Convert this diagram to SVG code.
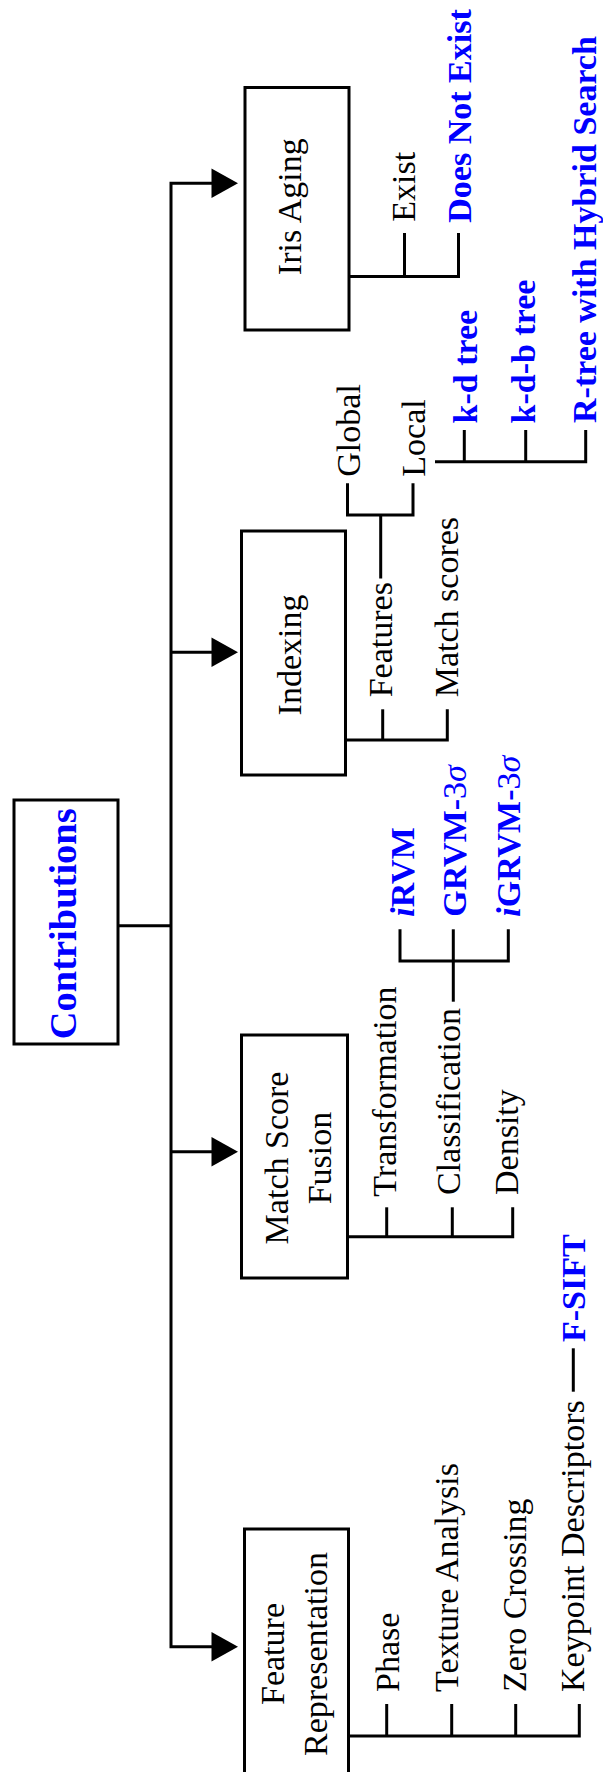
<svg xmlns="http://www.w3.org/2000/svg" xmlns:xlink="http://www.w3.org/1999/xlink" width="603" height="1772" viewBox="0 0 603 1772">
  <style>
    .box { fill: #ffffff; stroke: #000000; stroke-width: 3; }
    .wire { fill: none; stroke: #000000; stroke-width: 3; stroke-linejoin: miter; stroke-linecap: butt; }
    .lbl { font-family: "Liberation Serif", "Times New Roman", serif; font-size: 34px; fill: #000000; }
    .hl { font-family: "Liberation Serif", "Times New Roman", serif; font-size: 34px; font-weight: bold; fill: #0000ff; }
    .mid { text-anchor: middle; }
    .it { font-style: italic; }
    .nb { font-weight: normal; }
  </style>
  <defs>
    <path id="ah" d="M0,-14.7 L26.5,0 L0,14.7 Z" fill="#000000"/>
  </defs>

  <rect width="603" height="1772" fill="#ffffff"/>

  <!-- connectors -->
  <g id="connectors">
    <!-- trunk feeding the four topic boxes -->
    <path class="wire" d="M118 925.7 H171"/>
    <path class="wire" d="M212 183.3 H171 V1646.7 H212"/>
    <path class="wire" d="M171 652.3 H212"/>
    <path class="wire" d="M171 1151.7 H212"/>
    <use xlink:href="#ah" x="211.5" y="183.3"/>
    <use xlink:href="#ah" x="211.5" y="652.3"/>
    <use xlink:href="#ah" x="211.5" y="1151.7"/>
    <use xlink:href="#ah" x="211.5" y="1646.7"/>

    <!-- iris aging branches -->
    <path class="wire" d="M349 276.5 H458.5 V233"/>
    <path class="wire" d="M404.5 276.5 V233"/>

    <!-- indexing branches -->
    <path class="wire" d="M345.5 740 H447.3 V709.3"/>
    <path class="wire" d="M382.7 740 V709.3"/>
    <path class="wire" d="M380.7 578.5 V515"/>
    <path class="wire" d="M347.5 483.3 V515 H413 V483.3"/>
    <path class="wire" d="M435 461.7 H585.7 V430"/>
    <path class="wire" d="M464.3 461.7 V430"/>
    <path class="wire" d="M525.7 461.7 V430"/>

    <!-- match score fusion branches -->
    <path class="wire" d="M347.5 1236.7 H512.7 V1207.3"/>
    <path class="wire" d="M386.7 1236.7 V1207.3"/>
    <path class="wire" d="M452.3 1236.7 V1207.3"/>
    <path class="wire" d="M453.3 1001.7 V929.3"/>
    <path class="wire" d="M400 929.3 V961 H508.3 V929.3"/>

    <!-- feature representation branches -->
    <path class="wire" d="M348.5 1736 H579.3 V1704"/>
    <path class="wire" d="M386.7 1736 V1704"/>
    <path class="wire" d="M451.7 1736 V1704"/>
    <path class="wire" d="M515.7 1736 V1704"/>
    <path class="wire" d="M573.3 1391.7 V1348.3"/>
  </g>

  <!-- root -->
  <g id="contributions">
    <rect class="box" x="14" y="800" width="104" height="244"/>
    <text class="hl mid" style="font-size:38.5px" transform="translate(75.5,923.8) rotate(-90)">Contributions</text>
  </g>

  <!-- iris aging -->
  <g id="iris-aging">
    <rect class="box" x="245" y="87.5" width="104" height="242.5"/>
    <text class="lbl mid" transform="translate(301,206.7) rotate(-90)">Iris Aging</text>
  </g>
  <g id="exist">
    <text class="lbl" transform="translate(415,221.7) rotate(-90)">Exist</text>
  </g>
  <g id="does-not-exist">
    <text class="hl" transform="translate(471,222.7) rotate(-90)">Does Not Exist</text>
  </g>

  <!-- indexing -->
  <g id="indexing">
    <rect class="box" x="241.5" y="531" width="104" height="244"/>
    <text class="lbl mid" transform="translate(301.3,655) rotate(-90)">Indexing</text>
  </g>
  <g id="features">
    <text class="lbl" transform="translate(391.7,697.3) rotate(-90)">Features</text>
  </g>
  <g id="match-scores">
    <text class="lbl" transform="translate(458.3,697.3) rotate(-90)">Match scores</text>
  </g>
  <g id="global">
    <text class="lbl" transform="translate(359.5,476.7) rotate(-90)">Global</text>
  </g>
  <g id="local">
    <text class="lbl" transform="translate(424.5,476.7) rotate(-90)">Local</text>
  </g>
  <g id="kd-tree">
    <text class="hl" transform="translate(476.5,423.5) rotate(-90)">k-d tree</text>
  </g>
  <g id="kdb-tree">
    <text class="hl" transform="translate(534.5,423.5) rotate(-90)">k-d-b tree</text>
  </g>
  <g id="r-tree">
    <text class="hl" transform="translate(595.7,423) rotate(-90)">R-tree with Hybrid Search</text>
  </g>

  <!-- match score fusion -->
  <g id="match-score-fusion">
    <rect class="box" x="241.5" y="1035" width="106" height="243"/>
    <text class="lbl mid" transform="translate(288,1158) rotate(-90)">Match Score</text>
    <text class="lbl mid" transform="translate(330.5,1158) rotate(-90)">Fusion</text>
  </g>
  <g id="transformation">
    <text class="lbl" transform="translate(396,1196.7) rotate(-90)">Transformation</text>
  </g>
  <g id="classification">
    <text class="lbl" transform="translate(459.5,1195) rotate(-90)">Classification</text>
  </g>
  <g id="density">
    <text class="lbl" transform="translate(517.5,1195) rotate(-90)">Density</text>
  </g>
  <g id="irvm">
    <text class="hl" transform="translate(414,916.7) rotate(-90)"><tspan class="it">i</tspan>RVM</text>
  </g>
  <g id="grvm">
    <text class="hl" transform="translate(466,916.7) rotate(-90)">GRVM-<tspan class="nb">3</tspan><tspan class="nb it">σ</tspan></text>
  </g>
  <g id="igrvm">
    <text class="hl" transform="translate(520,916.7) rotate(-90)"><tspan class="it">i</tspan>GRVM-<tspan class="nb">3</tspan><tspan class="nb it">σ</tspan></text>
  </g>

  <!-- feature representation -->
  <g id="feature-representation">
    <rect class="box" x="244.5" y="1529" width="104" height="260"/>
    <text class="lbl mid" transform="translate(284,1654) rotate(-90)">Feature</text>
    <text class="lbl mid" transform="translate(326.5,1654) rotate(-90)">Representation</text>
  </g>
  <g id="phase">
    <text class="lbl" transform="translate(398.5,1692) rotate(-90)">Phase</text>
  </g>
  <g id="texture-analysis">
    <text class="lbl" transform="translate(457.5,1692) rotate(-90)">Texture Analysis</text>
  </g>
  <g id="zero-crossing">
    <text class="lbl" transform="translate(526,1692) rotate(-90)">Zero Crossing</text>
  </g>
  <g id="keypoint-descriptors">
    <text class="lbl" transform="translate(584,1692) rotate(-90)">Keypoint Descriptors</text>
  </g>
  <g id="f-sift">
    <text class="hl" transform="translate(585,1342) rotate(-90)">F-SIFT</text>
  </g>
</svg>
